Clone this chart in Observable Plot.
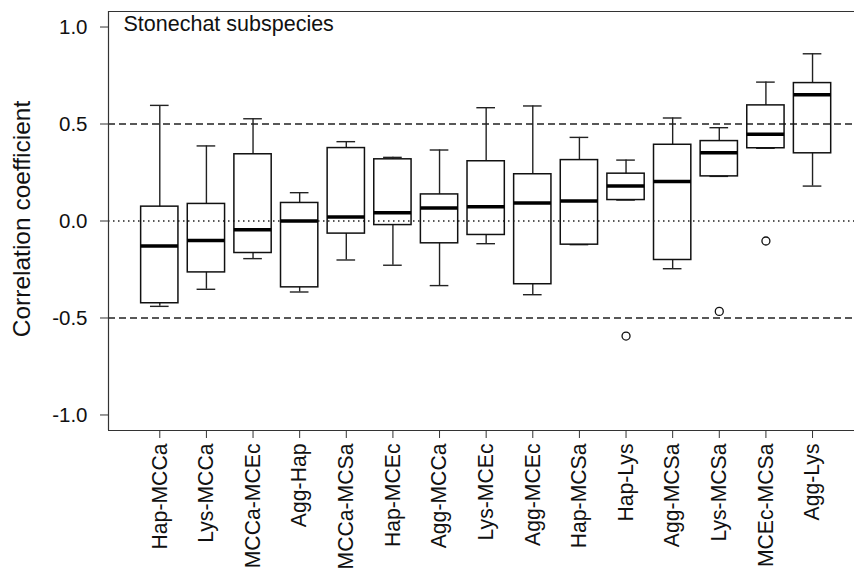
<!DOCTYPE html>
<html>
<head>
<meta charset="utf-8">
<script src="https://cdn.jsdelivr.net/npm/d3@7"></script>
<script src="https://cdn.jsdelivr.net/npm/@observablehq/plot@0.6"></script>
<style>
  html, body { margin: 0; padding: 0; background: #fff; }
  svg { font-family: "Liberation Sans", Arial, sans-serif; }
</style>
</head>
<body>
<div id="chart"></div>
<script>
const categories = ["Hap-MCCa","Lys-MCCa","MCCa-MCEc","Agg-Hap","MCCa-MCSa","Hap-MCEc","Agg-MCCa","Lys-MCEc","Agg-MCEc","Hap-MCSa","Hap-Lys","Agg-MCSa","Lys-MCSa","MCEc-MCSa","Agg-Lys"];
const lowerWhisker = [-0.440,-0.352,-0.194,-0.366,-0.201,-0.228,-0.333,-0.117,-0.380,-0.122,0.108,-0.246,0.230,0.375,0.180];
const q1 =           [-0.424,-0.265,-0.165,-0.342,-0.065,-0.021,-0.115,-0.072,-0.326,-0.122,0.108,-0.201,0.230,0.375,0.349];
const median =       [-0.129,-0.100,-0.045, 0.000, 0.021, 0.043, 0.067, 0.074, 0.093, 0.103,0.180, 0.203,0.352,0.447,0.651];
const q3 =           [ 0.074, 0.088, 0.344, 0.093, 0.376, 0.318, 0.137, 0.308, 0.241, 0.314,0.244, 0.393,0.412,0.596,0.711];
const upperWhisker = [ 0.596, 0.387, 0.527, 0.146, 0.409, 0.328, 0.366, 0.584, 0.593, 0.431,0.314, 0.531,0.481,0.716,0.862];
const outlierCategories = ["Hap-Lys","Lys-MCSa","MCEc-MCSa"];
const outlierValues = [-0.593,-0.466,-0.103];
const yTicks = [-1, -0.5, 0, 0.5, 1];
const dashedLines = [0.5, -0.5];
const dottedLines = [0];
const legendText = ["Stonechat subspecies"];
const yLabel = ["Correlation coefficient"];

const boxes = categories.map((c, i) => ({
  pos: i + 1, cat: c,
  lo: lowerWhisker[i], q1: q1[i], med: median[i], q3: q3[i], hi: upperWhisker[i]
}));
const outliers = outlierCategories.map((c, i) => ({pos: categories.indexOf(c) + 1, value: outlierValues[i]}));

const hw = 0.4;   // half box width
const cw = 0.2;   // half staple width

const chart = Plot.plot({
  width: 854,
  height: 572,
  marginLeft: 108,
  marginRight: 0,
  marginTop: 11,
  marginBottom: 142,
  style: {fontFamily: '"Liberation Sans", Arial, sans-serif', background: "#fff"},
  x: {type: "linear", domain: [-0.1, 15.9]},
  y: {domain: [-1.08, 1.08]},
  marks: [
    Plot.ruleY(dashedLines, {stroke: "#222", strokeWidth: 1.3, strokeDasharray: "7,4"}),
    Plot.ruleY(dottedLines, {stroke: "#222", strokeWidth: 1.5, strokeDasharray: "1.5,3.5"}),
    // whiskers
    Plot.ruleX(boxes, {x: "pos", y1: "q3", y2: "hi", stroke: "#222", strokeWidth: 1.4}),
    Plot.ruleX(boxes, {x: "pos", y1: "lo", y2: "q1", stroke: "#222", strokeWidth: 1.4}),
    // staples
    Plot.ruleY(boxes, {y: "hi", x1: d => d.pos - cw, x2: d => d.pos + cw, stroke: "#222", strokeWidth: 1.4}),
    Plot.ruleY(boxes, {y: "lo", x1: d => d.pos - cw, x2: d => d.pos + cw, stroke: "#222", strokeWidth: 1.4}),
    // boxes
    Plot.rect(boxes, {x1: d => d.pos - hw, x2: d => d.pos + hw, y1: "q1", y2: "q3", fill: "none", stroke: "#111", strokeWidth: 1.5}),
    // medians
    Plot.ruleY(boxes, {y: "med", x1: d => d.pos - hw, x2: d => d.pos + hw, stroke: "#000", strokeWidth: 3.5}),
    // outliers
    Plot.dot(outliers, {x: "pos", y: "value", r: 4, stroke: "#111", strokeWidth: 1.3, fill: "none"}),
    // frame (left, top, bottom)
    Plot.ruleX([-0.1], {stroke: "#333", strokeWidth: 1.2}),
    Plot.ruleY([-1.08, 1.08], {stroke: "#333", strokeWidth: 1.2}),
    // axes
    Plot.axisY(yTicks, {tickSize: 8, tickPadding: 13, tickFormat: d => d.toFixed(1), fontSize: 20.5, fill: "#111", stroke: "#333", label: null}),
    Plot.axisX(categories.map((c, i) => i + 1), {tickSize: 8, tickPadding: 5, tickRotate: -90, tickFormat: d => categories[d - 1], fontSize: 21.2, fill: "#111", stroke: "#333", label: null}),
    // legend text
    Plot.text(legendText, {frameAnchor: "top-left", dx: 15, dy: 4, textAnchor: "start", lineAnchor: "top", fontSize: 21.5, fill: "#111"}),
    // y label
    Plot.text(yLabel, {frameAnchor: "left", dx: -86.5, dy: -2, rotate: -90, textAnchor: "middle", lineAnchor: "middle", fontSize: 24.5, fill: "#111"})
  ]
});
document.getElementById("chart").appendChild(chart);
</script>
</body>
</html>
